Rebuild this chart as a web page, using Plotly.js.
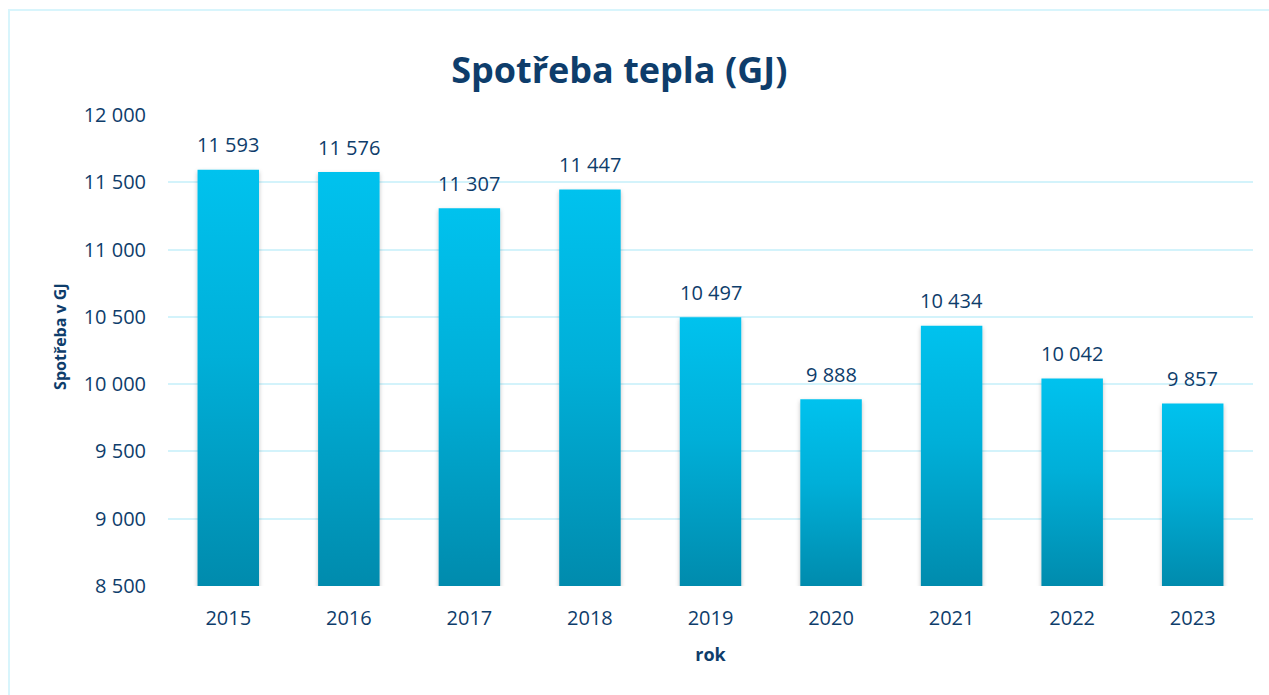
<!DOCTYPE html>
<html>
<head>
<meta charset="utf-8">
<script src="https://cdn.plot.ly/plotly-3.0.1.min.js"></script>
<style>
  html, body { margin: 0; padding: 0; background: #fff; }
  #wrap { position: relative; width: 1269px; height: 695px; overflow: hidden; }
  #chart { width: 1269px; height: 695px; }
  #frame { position: absolute; left: 8px; top: 9px; width: 1300px; height: 720px;
           border: 2px solid #D8F5FC; box-sizing: border-box; pointer-events: none; }
</style>
</head>
<body>
<div id="wrap">
  <div id="chart"></div>
  <div id="frame"></div>
</div>
<script>
const years = ['2015', '2016', '2017', '2018', '2019', '2020', '2021', '2022', '2023'];
const consumption = [11593, 11576, 11307, 11447, 10497, 9888, 10434, 10042, 9857];
const yTicks = [8500, 9000, 9500, 10000, 10500, 11000, 11500, 12000];

const navy = '#0E3D6B';
const font = "'Open Sans', 'Noto Sans', sans-serif";
const fmt = v => v.toLocaleString('en-US').replace(/,/g, ' ');

const trace = {
  type: 'bar',
  x: years,
  y: consumption,
  marker: { color: '#00B0DA', line: { width: 0 } },
  hoverinfo: 'x+y'
};

// category axis: annotation x given as category index
const valueLabels = years.map((yr, i) => ({
  x: i, y: consumption[i], xref: 'x', yref: 'y',
  text: fmt(consumption[i]), showarrow: false,
  yanchor: 'middle', yshift: 25,
  font: { family: font, size: 20, color: navy }
}));

const layout = {
  width: 1269,
  height: 695,
  margin: { l: 168, r: 16, t: 115, b: 109 },
  paper_bgcolor: 'rgba(0,0,0,0)',
  plot_bgcolor: 'rgba(0,0,0,0)',
  separators: ', ',
  bargap: 0.49,
  showlegend: false,
  title: {
    text: '<b>Spotřeba tepla (GJ)</b>',
    font: { family: font, size: 36, color: navy },
    x: 0.488, xanchor: 'center',
    y: 0.899, yanchor: 'middle'
  },
  xaxis: {
    type: 'category',
    categoryorder: 'array', categoryarray: years,
    tickfont: { family: font, size: 20, color: navy },
    ticks: 'outside', ticklen: 14, tickcolor: 'rgba(0,0,0,0)',
    showline: false, showgrid: false, zeroline: false,
    title: { text: '<b>rok</b>', font: { family: font, size: 18, color: navy }, standoff: 18 }
  },
  yaxis: {
    range: [8500, 12000],
    tickvals: yTicks,
    ticktext: yTicks.map(fmt),
    tickfont: { family: font, size: 20, color: navy },
    ticks: 'outside', ticklen: 17, tickcolor: 'rgba(0,0,0,0)',
    showgrid: true, gridcolor: '#D3F3FB', gridwidth: 2,
    zeroline: false, showline: false
  },
  annotations: valueLabels.concat([{
    xref: 'paper', yref: 'paper', x: -0.0995, y: 0.529,
    xanchor: 'center', yanchor: 'middle', textangle: -90, showarrow: false,
    text: '<b>Spotřeba v GJ</b>',
    font: { family: font, size: 16, color: navy }
  }])
};

Plotly.newPlot('chart', [trace], layout, { displayModeBar: false, staticPlot: true }).then(gd => {
  const svg = gd.querySelector('svg.main-svg');
  const ns = 'http://www.w3.org/2000/svg';
  let defs = svg.querySelector('defs');
  if (!defs) { defs = document.createElementNS(ns, 'defs'); svg.insertBefore(defs, svg.firstChild); }
  const bottom = gd._fullLayout.yaxis._length;
  const filt = document.createElementNS(ns, 'filter');
  filt.setAttribute('id', 'barShadow');
  filt.setAttribute('x', '-20%'); filt.setAttribute('y', '-5%');
  filt.setAttribute('width', '140%'); filt.setAttribute('height', '112%');
  filt.innerHTML = '<feDropShadow dx="0" dy="2" stdDeviation="2" flood-color="#000" flood-opacity="0.25"/>';
  defs.appendChild(filt);
  gd.querySelectorAll('.bars .point path').forEach((p, i) => {
    const bb = p.getBBox();
    const top = Math.max(bb.y, 0);
    const grad = document.createElementNS(ns, 'linearGradient');
    grad.setAttribute('id', 'barGrad' + i);
    grad.setAttribute('gradientUnits', 'userSpaceOnUse');
    grad.setAttribute('x1', '0'); grad.setAttribute('y1', String(top));
    grad.setAttribute('x2', '0'); grad.setAttribute('y2', String(bottom));
    [['0', '#00C2EE'], ['0.45', '#00AFD8'], ['1', '#008BAD']].forEach(([o, c]) => {
      const s = document.createElementNS(ns, 'stop');
      s.setAttribute('offset', o); s.setAttribute('stop-color', c);
      grad.appendChild(s);
    });
    defs.appendChild(grad);
    p.style.fill = 'url(#barGrad' + i + ')';
    p.setAttribute('filter', 'url(#barShadow)');
  });
});
</script>
</body>
</html>
